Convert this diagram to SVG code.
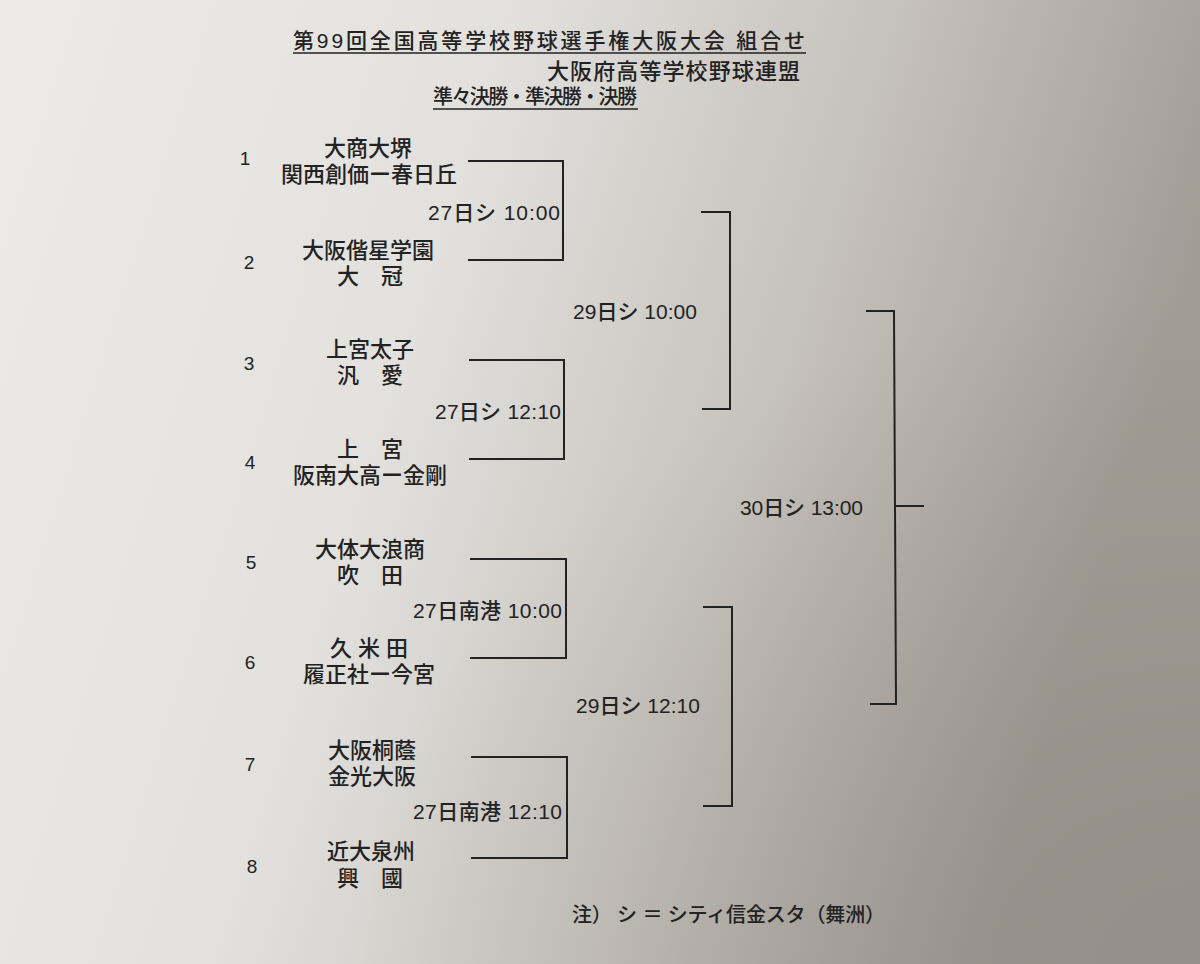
<svg xmlns="http://www.w3.org/2000/svg" width="1200" height="964" viewBox="0 0 1200 964">
<defs>
<linearGradient id="bg" x1="0" y1="0" x2="1" y2="0.25">
<stop offset="0" stop-color="#ecebe9"/>
<stop offset="0.4" stop-color="#e2e1de"/>
<stop offset="0.7" stop-color="#c6c2bc"/>
<stop offset="1" stop-color="#a29c95"/>
</linearGradient>
<radialGradient id="shade" cx="1" cy="1" r="0.7">
<stop offset="0" stop-color="#7f7a73" stop-opacity="0.4"/>
<stop offset="1" stop-color="#7f7a73" stop-opacity="0"/>
</radialGradient>
<style>
text{font-family:"Liberation Sans","Noto Sans CJK JP",sans-serif;fill:#222;font-weight:500}
.t{font-size:22px;text-anchor:middle}
.n{font-size:19px;text-anchor:middle}
.l{font-size:21px}
.h{font-size:21px}
.b{fill:none;stroke:#222;stroke-width:2}
</style>
</defs>
<rect width="1200" height="964" fill="url(#bg)"/>
<rect width="1200" height="964" fill="url(#shade)"/>
<g id="header">
<text class="h" x="293" y="48" textLength="512">第99回全国高等学校野球選手権大阪大会 組合せ</text>
<line x1="293" y1="53" x2="806" y2="53" stroke="#222" stroke-width="1.5"/>
<text class="h" x="547" y="79" textLength="253" style="font-size:22px">大阪府高等学校野球連盟</text>
<text class="h" x="433" y="104" textLength="204" style="font-size:20px">準々決勝・準決勝・決勝</text>
<line x1="433" y1="109" x2="638" y2="109" stroke="#222" stroke-width="1.5"/>
</g>
<g id="seed1"><text class="n" x="245" y="165">1</text><text class="t" x="368" y="156">大商大堺</text><text class="t" x="369" y="182">関西創価ー春日丘</text></g>
<g id="seed2"><text class="n" x="249" y="269">2</text><text class="t" x="368" y="258">大阪偕星学園</text><text class="t" x="370" y="284">大　冠</text></g>
<g id="seed3"><text class="n" x="249" y="370">3</text><text class="t" x="370" y="357">上宮太子</text><text class="t" x="370" y="383">汎　愛</text></g>
<g id="seed4"><text class="n" x="250" y="469">4</text><text class="t" x="370" y="457">上　宮</text><text class="t" x="370" y="483">阪南大高ー金剛</text></g>
<g id="seed5"><text class="n" x="251" y="569">5</text><text class="t" x="370" y="557">大体大浪商</text><text class="t" x="370" y="583">吹　田</text></g>
<g id="seed6"><text class="n" x="250" y="669">6</text><text class="t" x="369" y="656">久 米 田</text><text class="t" x="369" y="682">履正社ー今宮</text></g>
<g id="seed7"><text class="n" x="250" y="771">7</text><text class="t" x="372" y="758">大阪桐蔭</text><text class="t" x="372" y="784">金光大阪</text></g>
<g id="seed8"><text class="n" x="252" y="873">8</text><text class="t" x="371" y="859">近大泉州</text><text class="t" x="370" y="886">興　國</text></g>
<g id="connectors">
<polyline class="b" points="468,161 563,161 563,260 468,260"/>
<polyline class="b" points="469,360 564,360 564,459 469,459"/>
<polyline class="b" points="470,559 566,559 566,658 470,658"/>
<polyline class="b" points="471,757 567,757 567,858 471,858"/>
<polyline class="b" points="701,212 730,212 730,409 702,409"/>
<polyline class="b" points="703,607 732,607 732,806 703,806"/>
<polyline class="b" points="866,311 894,311 896,704 870,704"/>
<line class="b" x1="895" y1="506" x2="924" y2="506"/>
</g>
<g id="labels">
<text class="l" x="428" y="220" textLength="132">27日シ 10:00</text>
<text class="l" x="435" y="419" textLength="126">27日シ 12:10</text>
<text class="l" x="413" y="618" textLength="149">27日南港 10:00</text>
<text class="l" x="413" y="819" textLength="149">27日南港 12:10</text>
<text class="l" x="573" y="319" textLength="124">29日シ 10:00</text>
<text class="l" x="576" y="713" textLength="124">29日シ 12:10</text>
<text class="l" x="740" y="515" textLength="123">30日シ 13:00</text>
</g>
<g id="note"><text x="572" y="922" style="font-size:20px" textLength="313">注） シ ＝ シティ信金スタ（舞洲）</text></g>
</svg>
